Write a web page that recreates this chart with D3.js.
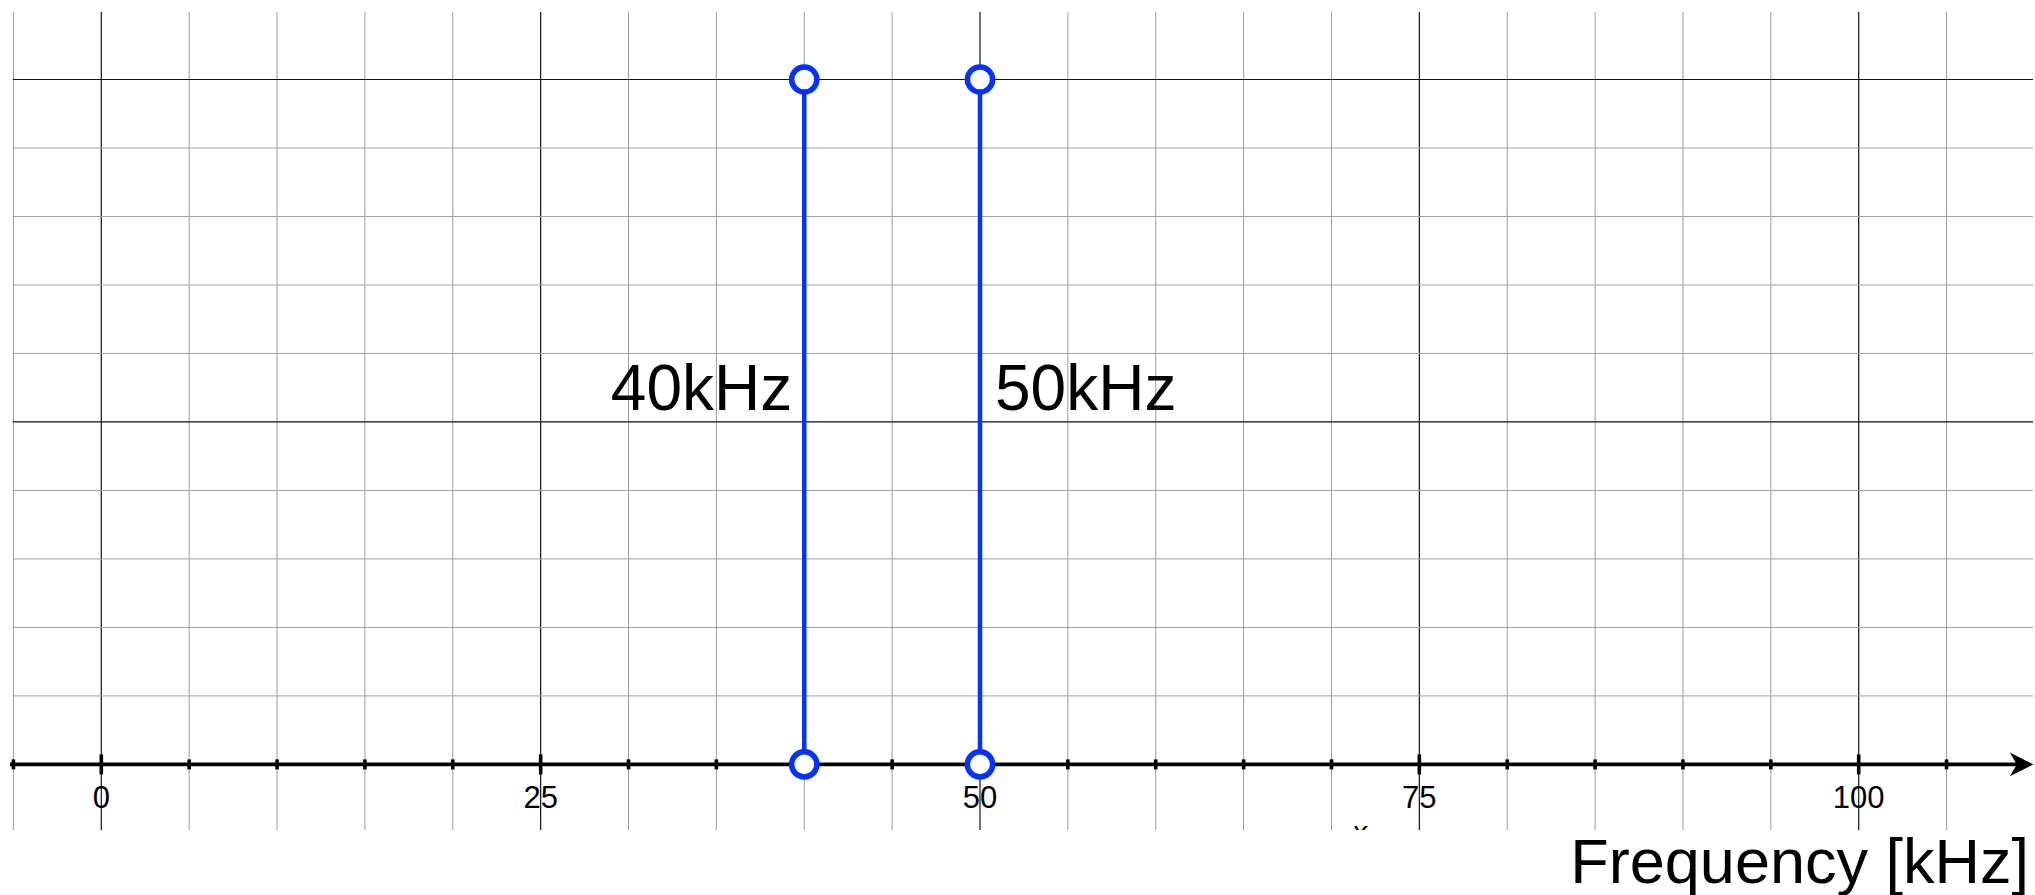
<!DOCTYPE html>
<html>
<head>
<meta charset="utf-8">
<script src="https://cdn.jsdelivr.net/npm/d3@7"></script>
<style>
  html, body { margin: 0; padding: 0; background: #fff; }
  svg { display: block; }
  text { font-family: "Liberation Sans", Arial, Helvetica, sans-serif; }
</style>
</head>
<body>
<svg id="chart" width="2035" height="895"></svg>
<script>
// ---- data ----
const frequencies = [40, 50];          // kHz
const amplitudes = [1, 1];
const stemLabels = ["40kHz", "50kHz"];
const majorTickValues = [0, 25, 50, 75, 100];
const majorTickLabels = ["0", "25", "50", "75", "100"];
const minorTickValues = [-5, 5, 10, 15, 20, 30, 35, 40, 45, 55, 60, 65, 70, 80, 85, 90, 95, 105];
const gridXValues = [-5, 0, 5, 10, 15, 20, 25, 30, 35, 40, 45, 50, 55, 60, 65, 70, 75, 80, 85, 90, 95, 100, 105];
const gridYValues = [0.1, 0.2, 0.3, 0.4, 0.5, 0.6, 0.7, 0.8, 0.9, 1.0];
const majorGridX = [0, 25, 50, 75, 100];
const majorGridY = [0.5, 1.0];
const axisTitle = "Frequency [kHz]";

// ---- layout ----
const W = 2035, H = 895;
const svg = d3.select("#chart");
const x = d3.scaleLinear().domain([0, 100]).range([101.3, 1858.7]);
const y = d3.scaleLinear().domain([0, 1]).range([764.4, 79.5]);
const clip = { x0: 12.5, y0: 12, x1: 2033, y1: 830 };
const blue = "#0433ff";

svg.append("defs").append("clipPath").attr("id", "plotclip")
  .append("rect")
  .attr("x", clip.x0).attr("y", clip.y0)
  .attr("width", clip.x1 - clip.x0).attr("height", clip.y1 - clip.y0);

const plot = svg.append("g").attr("clip-path", "url(#plotclip)");

// grid
plot.append("g").selectAll("line").data(gridXValues).join("line")
  .attr("x1", d => x(d)).attr("x2", d => x(d))
  .attr("y1", clip.y0).attr("y2", clip.y1)
  .attr("stroke", d => majorGridX.includes(d) ? "#111" : "#9c9c9c")
  .attr("stroke-width", d => majorGridX.includes(d) ? 1.2 : 1);

plot.append("g").selectAll("line").data(gridYValues).join("line")
  .attr("x1", clip.x0).attr("x2", clip.x1)
  .attr("y1", d => y(d)).attr("y2", d => y(d))
  .attr("stroke", d => majorGridY.some(m => Math.abs(m - d) < 1e-9) ? "#111" : "#a0a0a0")
  .attr("stroke-width", d => majorGridY.some(m => Math.abs(m - d) < 1e-9) ? 1.2 : 1);

// clipped axis-name glyph peeking below the grid
plot.append("text")
  .attr("x", x(71.6)).attr("y", y(0) + 78)
  .attr("text-anchor", "middle")
  .attr("font-size", 30).attr("font-style", "italic")
  .attr("fill", "#000")
  .text("x");

// x axis line + arrow
const axisY = y(0);
const arrowTip = clip.x1 + 0.3;
svg.append("line")
  .attr("x1", 10).attr("x2", arrowTip - 16)
  .attr("y1", axisY).attr("y2", axisY)
  .attr("stroke", "#000").attr("stroke-width", 3.6);
svg.append("path")
  .attr("d", `M${arrowTip},${axisY} L${arrowTip - 23.5},${axisY - 11.8} L${arrowTip - 16.5},${axisY} L${arrowTip - 23.5},${axisY + 11.8} Z`)
  .attr("fill", "#000");

// ticks
svg.append("g").selectAll("line").data(minorTickValues).join("line")
  .attr("x1", d => x(d)).attr("x2", d => x(d))
  .attr("y1", axisY - 5).attr("y2", axisY + 5)
  .attr("stroke", "#000").attr("stroke-width", 3.6);
svg.append("g").selectAll("line").data(majorTickValues).join("line")
  .attr("x1", d => x(d)).attr("x2", d => x(d))
  .attr("y1", axisY - 10).attr("y2", axisY + 10)
  .attr("stroke", "#000").attr("stroke-width", 3.6);

// tick labels
svg.append("g").selectAll("text").data(majorTickValues).join("text")
  .attr("x", d => x(d)).attr("y", axisY + 44)
  .attr("text-anchor", "middle")
  .attr("font-size", 31).attr("fill", "#000")
  .text((d, i) => majorTickLabels[i]);

// axis title
svg.append("text")
  .attr("x", 2029).attr("y", 882.5)
  .attr("text-anchor", "end")
  .attr("font-size", 63).attr("fill", "#000")
  .text(axisTitle);

// stems
const stems = frequencies.map((f, i) => ({ f, a: amplitudes[i], label: stemLabels[i] }));
svg.append("g").selectAll("line").data(stems).join("line")
  .attr("x1", d => x(d.f)).attr("x2", d => x(d.f))
  .attr("y1", y(0)).attr("y2", d => y(d.a))
  .attr("stroke", blue).attr("stroke-width", 4.5);

const endpoints = stems.flatMap(d => [{ f: d.f, v: 0 }, { f: d.f, v: d.a }]);
svg.append("g").selectAll("circle").data(endpoints).join("circle")
  .attr("cx", d => x(d.f)).attr("cy", d => y(d.v))
  .attr("r", 12.6)
  .attr("fill", "#fff")
  .attr("stroke", blue).attr("stroke-width", 5.5);

// stem labels
svg.append("g").selectAll("text").data(stems).join("text")
  .attr("x", (d, i) => i === 0 ? x(d.f) - 12 : x(d.f) + 15)
  .attr("y", y(0.5) - 12)
  .attr("text-anchor", (d, i) => i === 0 ? "end" : "start")
  .attr("font-size", 64).attr("fill", "#000")
  .text(d => d.label);
</script>
</body>
</html>
